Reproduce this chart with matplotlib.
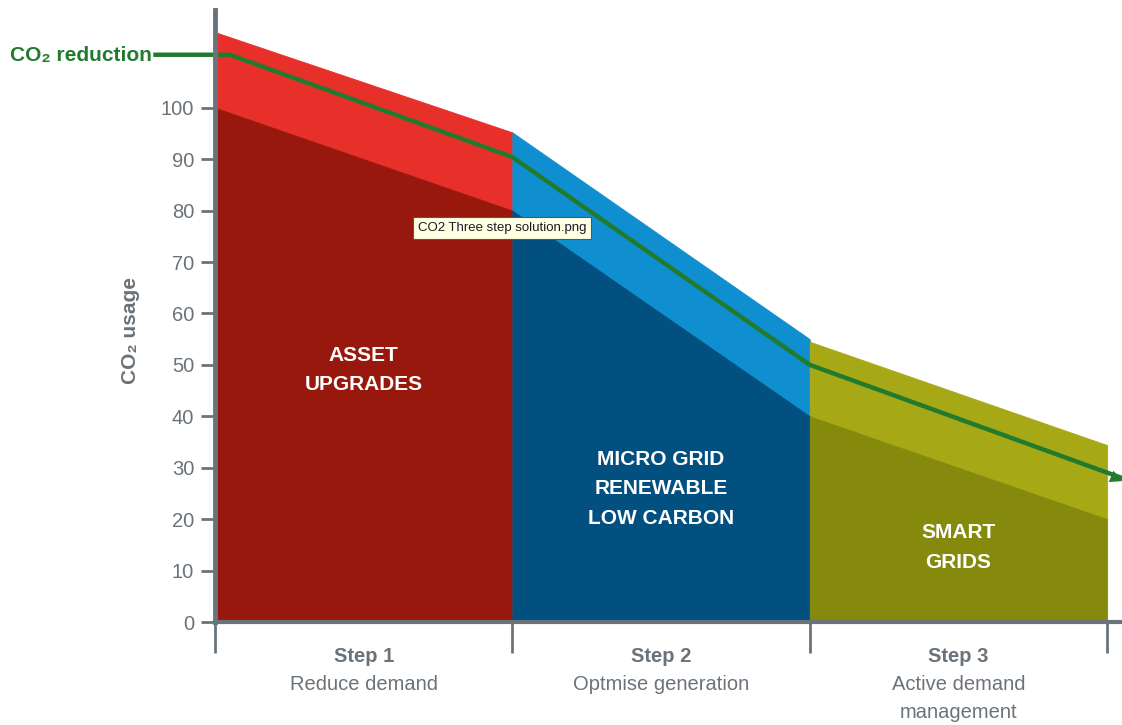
import matplotlib
matplotlib.use("Agg")
import matplotlib.pyplot as plt
from matplotlib.transforms import blended_transform_factory

plt.rcParams['font.family'] = ['Liberation Sans', 'DejaVu Sans']

# ---- data ----
step_edges = [[0, 1], [1, 2], [2, 3]]
total_top = [[114.7, 95.2], [95.2, 55.0], [54.5, 34.4]]
base_top = [[100.0, 80.0], [80.0, 40.0], [40.0, 20.0]]
light_colors = ['#e8302a', '#0f8fd0', '#a6a915']
dark_colors = ['#99180e', '#02507f', '#868a0c']
area_labels = ['ASSET\nUPGRADES', 'MICRO GRID\nRENEWABLE\nLOW CARBON', 'SMART\nGRIDS']
area_label_y = [49.0, 25.9, 14.5]
step_titles = ['Step 1', 'Step 2', 'Step 3']
step_subtitles = [['Reduce demand'], ['Optmise generation'], ['Active demand', 'management']]
reduction_x = [-0.2, 0.05, 1.0, 2.0, 3.05]
reduction_y = [110.3, 110.3, 90.4, 50.0, 28.0]
yticks = [0, 10, 20, 30, 40, 50, 60, 70, 80, 90, 100]

gray = '#6b737a'
green = '#217a2e'

fig = plt.figure(figsize=(11.22, 7.25), dpi=100)
ax = fig.add_axes([215/1122, 103/725, 907/1122, 612/725])
ax.set_xlim(0, 3.05)
ax.set_ylim(0, 119)

for (x0, x1), tt, bt, lc, dc in zip(step_edges, total_top, base_top, light_colors, dark_colors):
    ax.fill_between([x0, x1], bt, tt, facecolor=lc, edgecolor=lc, lw=0.6, zorder=1)
    ax.fill_between([x0, x1], [0, 0], bt, facecolor=dc, edgecolor=dc, lw=0.6, zorder=2)

for (x0, x1), lab, ly in zip(step_edges, area_labels, area_label_y):
    ax.text((x0 + x1) / 2, ly, lab, ha='center', va='center', color='white',
            fontsize=15, fontweight='bold', linespacing=1.7, zorder=3)

ax.plot(reduction_x, reduction_y, color=green, lw=3.2, zorder=4, clip_on=False,
        solid_joinstyle='round')
ax.annotate('', xy=(reduction_x[-1] + 0.01, reduction_y[-1] - 0.8),
            xytext=(reduction_x[-2] + 0.9, reduction_y[-2] - 19.0),
            arrowprops=dict(arrowstyle='-|>', color=green, lw=0, mutation_scale=22),
            annotation_clip=False, zorder=5)

# spines
for s in ['top', 'right']:
    ax.spines[s].set_visible(False)
ax.spines['left'].set_color(gray)
ax.spines['left'].set_linewidth(3.5)
ax.spines['left'].set_zorder(6)
ax.spines['bottom'].set_color(gray)
ax.spines['bottom'].set_linewidth(3)
ax.spines['bottom'].set_zorder(6)

ax.set_yticks(yticks)
ax.set_yticklabels([str(v) for v in yticks])
ax.tick_params(axis='y', length=10, width=2, color=gray, labelcolor=gray,
               labelsize=14.5, pad=5)
ax.set_xticks([0, 1, 2, 3])
ax.set_xticklabels([])
ax.tick_params(axis='x', length=22, width=2, color=gray)

trans = blended_transform_factory(ax.transData, fig.transFigure)
for i, (t, subs) in enumerate(zip(step_titles, step_subtitles)):
    xc = i + 0.5
    ax.text(xc, 1 - 657/725, t, transform=trans, ha='center', va='center',
            fontsize=14.5, fontweight='bold', color=gray)
    for j, s in enumerate(subs):
        ax.text(xc, 1 - (685 + 28 * j)/725, s, transform=trans, ha='center', va='center',
                fontsize=14.5, color=gray)

fig.text(130/1122, 1 - 330/725, 'CO\u2082 usage', rotation=90, ha='center', va='center',
         fontsize=15, fontweight='bold', color=gray)
fig.text(10/1122, 1 - 55/725, 'CO\u2082 reduction', ha='left', va='center',
         fontsize=15, fontweight='bold', color=green)

# tooltip artifact
fig.text(418/1122, 1 - 228/725, 'CO2 Three step solution.png', ha='left', va='center',
         fontsize=9.5, color='#1a1a2a',
         bbox=dict(boxstyle='square,pad=0.35', fc='#ffffe1', ec='#555555', lw=0.8),
         zorder=10)

fig.savefig('out.png', dpi=100)
